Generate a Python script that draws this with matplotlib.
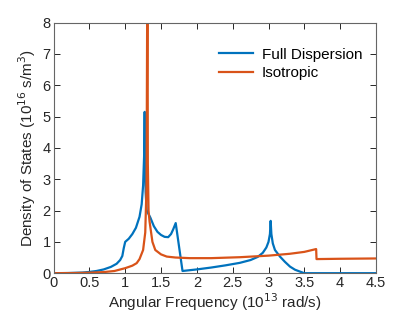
import matplotlib
matplotlib.use('Agg')
from matplotlib import pyplot as plt

plt.rcParams['font.family'] = ['Liberation Sans', 'DejaVu Sans']

# full dispersion (blue)
x_full = [0, 0.2, 0.4, 0.5, 0.6, 0.7, 0.8, 0.88, 0.93, 0.96, 0.98, 1.0, 1.05, 1.1,
          1.15, 1.2, 1.23, 1.25, 1.265, 1.272, 1.276, 1.285, 1.3, 1.35, 1.4, 1.45,
          1.5, 1.55, 1.6, 1.64, 1.67, 1.705, 1.80, 2.0, 2.2, 2.4, 2.6, 2.75, 2.85,
          2.92, 2.97, 3.0, 3.02, 3.03, 3.04, 3.06, 3.09, 3.16, 3.23, 3.3, 3.37,
          3.44, 3.5, 4.5]
y_full = [0, 0.005, 0.02, 0.04, 0.07, 0.12, 0.2, 0.3, 0.42, 0.55, 0.8, 1.0, 1.1, 1.25,
          1.45, 1.8, 2.2, 2.8, 3.8, 5.15, 4.0, 2.6, 2.0, 1.78, 1.5, 1.32,
          1.22, 1.16, 1.15, 1.25, 1.4, 1.6, 0.07, 0.12, 0.18, 0.25, 0.33, 0.42, 0.52,
          0.65, 0.82, 1.0, 1.25, 1.67, 1.25, 0.95, 0.74, 0.53, 0.36, 0.21, 0.11,
          0.05, 0.0, 0.0]

# isotropic (orange)
x_iso = [0, 0.3, 0.5, 0.7, 0.85, 1.0, 1.1, 1.16, 1.2, 1.25, 1.28, 1.298, 1.308,
         1.312, 1.316, 1.326, 1.34, 1.35, 1.38, 1.42, 1.5, 1.58, 1.7, 1.9, 2.2,
         2.6, 3.0, 3.3, 3.5, 3.665, 3.67, 4.0, 4.5]
y_iso = [0, 0.005, 0.015, 0.035, 0.07, 0.16, 0.24, 0.32, 0.45, 0.74, 1.3, 2.8, 9.0,
         9.0, 3.5, 2.0, 1.65, 1.49, 1.0, 0.74, 0.6, 0.53, 0.5, 0.48, 0.48,
         0.51, 0.56, 0.62, 0.68, 0.77, 0.45, 0.46, 0.47]

fig = plt.figure(figsize=(4.15, 3.14), dpi=100)
ax = fig.add_axes([0.129, 0.130, 0.777, 0.798])
ax.plot(x_full, y_full, color='#0072BD', lw=1.6, label='Full Dispersion')
ax.plot(x_iso, y_iso, color='#D95319', lw=1.6, label='Isotropic')

ax.set_xlim(0, 4.5)
ax.set_ylim(0, 8)
ax.set_xticks([0, 0.5, 1, 1.5, 2, 2.5, 3, 3.5, 4, 4.5])
ax.set_xticklabels(['0', '0.5', '1', '1.5', '2', '2.5', '3', '3.5', '4', '4.5'])
ax.set_yticks(range(0, 9))
ax.tick_params(direction='in', top=True, right=True, length=4, width=0.7,
               colors='#262626', labelsize=10.5, pad=2)
for s in ax.spines.values():
    s.set_color('#666666')
    s.set_linewidth(0.8)

ax.set_xlabel('Angular Frequency (10$^{13}$ rad/s)', fontsize=11, color='#262626', labelpad=1)
ax.set_ylabel('Density of States (10$^{16}$ s/m$^3$)', fontsize=11, color='#262626', labelpad=3)

ax.legend(loc='upper right', frameon=False, fontsize=11, handlelength=2.2,
          handletextpad=0.6, labelspacing=0.3, bbox_to_anchor=(1.0, 0.955))

plt.savefig('out.png', dpi=100)
